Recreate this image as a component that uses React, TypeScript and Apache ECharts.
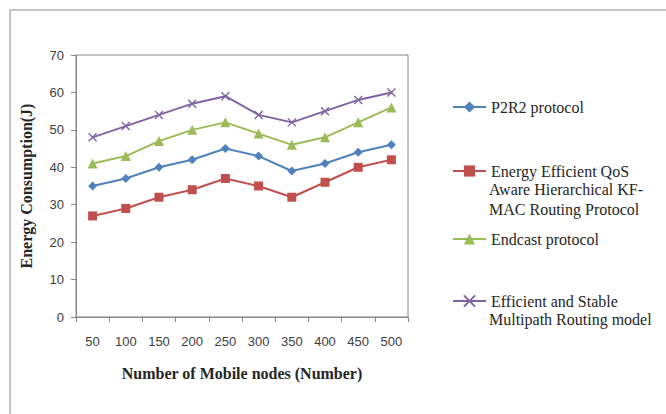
import React, { useEffect, useRef } from "react";
import * as echarts from "echarts";

const nodeCounts = ["50", "100", "150", "200", "250", "300", "350", "400", "450", "500"];
const p2r2 = [35, 37, 40, 42, 45, 43, 39, 41, 44, 46];
const eeqos = [27, 29, 32, 34, 37, 35, 32, 36, 40, 42];
const endcast = [41, 43, 47, 50, 52, 49, 46, 48, 52, 56];
const esmr = [48, 51, 54, 57, 59, 54, 52, 55, 58, 60];

const seriesNames = [
  "P2R2 protocol",
  "Energy Efficient QoS Aware Hierarchical KF-MAC Routing Protocol",
  "Endcast protocol",
  "Efficient and Stable Multipath Routing model",
];
// legend text split into lines as laid out beside the plot
const legendLines = [
  ["P2R2 protocol"],
  ["Energy Efficient QoS", "Aware Hierarchical KF-", "MAC Routing Protocol"],
  ["Endcast protocol"],
  ["Efficient and Stable", "Multipath Routing model"],
];
const legendRows = [106, 170, 238, 300];

const colors = ["#4F81BD", "#C0504D", "#9BBB59", "#8064A2"];
const SERIF = "'Liberation Serif', 'Times New Roman', serif";
const SANS = "'Liberation Sans', Arial, sans-serif";

export default function App() {
  const ref = useRef<HTMLDivElement>(null);

  useEffect(() => {
    if (!ref.current) return;
    const chart = echarts.init(ref.current, undefined, { renderer: "svg" });
    const lineGap = 20;
    const legendX = 452;

    const mkSeries = (i: number, data: number[], symbol: string, size: number) => ({
      name: seriesNames[i],
      type: "line",
      data,
      symbol,
      symbolSize: size,
      showSymbol: true,
      lineStyle: { color: colors[i], width: 2 },
      itemStyle: {
        color: colors[i],
        borderColor: colors[i],
        borderWidth: i === 3 ? 1.4 : 0,
      },
      emphasis: { disabled: true },
    });

    const extraText: any[] = [];
    legendLines.forEach((lines, i) => {
      lines.slice(1).forEach((t, k) => {
        extraText.push({
          type: "text",
          left: legendX + 37,
          top: legendRows[i] + (k + 1) * lineGap - 9,
          style: { text: t, font: `16px ${SERIF}`, fill: "#262626" },
        });
      });
    });

    chart.setOption({
      animation: false,
      grid: {
        left: 76,
        top: 55,
        right: 258,
        bottom: 97,
        show: true,
        borderColor: "#868686",
        borderWidth: 1,
      },
      legend: seriesNames.map((n, i) => ({
        data: [n],
        orient: "vertical",
        left: legendX,
        top: legendRows[i] - 7,
        padding: 0,
        itemWidth: 33,
        itemHeight: 14,
        selectedMode: false,
        formatter: () => legendLines[i][0],
        textStyle: { fontFamily: SERIF, fontSize: 16, color: "#262626" },
      })),
      xAxis: {
        type: "category",
        data: nodeCounts,
        boundaryGap: true,
        name: "Number of Mobile nodes (Number)",
        nameLocation: "middle",
        nameGap: 48,
        nameTextStyle: { fontFamily: SERIF, fontSize: 16, fontWeight: "bold", color: "#262626" },
        axisLine: { lineStyle: { color: "#868686" } },
        axisTick: { show: true, interval: 0, length: 5, lineStyle: { color: "#868686" } },
        axisLabel: { interval: 0, margin: 18, fontFamily: SANS, fontSize: 13, color: "#404040" },
        splitLine: { show: false },
      },
      yAxis: {
        type: "value",
        min: 0,
        max: 70,
        interval: 10,
        name: "Energy Consumption(J)",
        nameLocation: "middle",
        nameGap: 42,
        nameTextStyle: { fontFamily: SERIF, fontSize: 16, fontWeight: "bold", color: "#262626" },
        axisLine: { show: true, lineStyle: { color: "#868686" } },
        axisTick: { show: true, length: 5, lineStyle: { color: "#868686" } },
        axisLabel: { margin: 12, fontFamily: SANS, fontSize: 13, color: "#404040" },
        splitLine: { show: false },
      },
      graphic: [
        {
          type: "rect",
          shape: { x: 10, y: 10, width: 720, height: 480 },
          style: { fill: "none", stroke: "#c4c4c4", lineWidth: 2 },
          silent: true,
        },
        ...extraText,
      ],
      series: [
        mkSeries(0, p2r2, "diamond", 9),
        mkSeries(1, eeqos, "rect", 9),
        mkSeries(2, endcast, "triangle", 10),
        mkSeries(3, esmr, "path://M0 0L10 10M10 0L0 10", 8),
      ],
    });

    return () => chart.dispose();
  }, []);

  return (
    <div
      ref={ref}
      style={{ position: "absolute", left: 0, top: 0, width: 666, height: 414, background: "#fff" }}
    />
  );
}
